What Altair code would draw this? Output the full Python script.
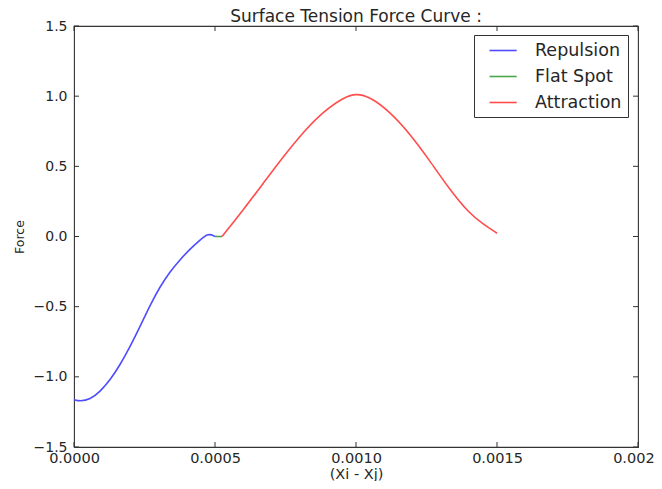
import altair as alt
import pandas as pd

# Data
rep_x = [0.0, 0.000021, 0.000057, 0.000092, 0.000128, 0.000163, 0.000199, 0.000234,
         0.00027, 0.000305, 0.00034, 0.000376, 0.000411, 0.000447, 0.000476, 0.0005]
rep_y = [-1.163, -1.175, -1.162, -1.106, -1.023, -0.916, -0.785, -0.643,
         -0.488, -0.358, -0.251, -0.165, -0.09, -0.025, 0.025, 0.0]
flat_x = [0.0005, 0.000525]
flat_y = [0.0, 0.0]
att_x = [0.000525, 0.0006, 0.000671, 0.000742, 0.000813, 0.000884, 0.000955, 0.001,
         0.00105, 0.00112, 0.00119, 0.00126, 0.00133, 0.0014, 0.00145, 0.0015]
att_y = [0.0, 0.189, 0.379, 0.569, 0.745, 0.89, 0.99, 1.02,
         0.995, 0.889, 0.735, 0.545, 0.34, 0.168, 0.09, 0.023]

series = ["Repulsion", "Flat Spot", "Attraction"]
colors = ["#4d4dff", "#4da64d", "#ff4d4d"]
x_ticks = [0.0, 0.0005, 0.001, 0.0015, 0.002]
y_ticks = [-1.5, -1.0, -0.5, 0.0, 0.5, 1.0, 1.5]

rows = []
for name, xs, ys in [("Repulsion", rep_x, rep_y), ("Flat Spot", flat_x, flat_y),
                     ("Attraction", att_x, att_y)]:
    for i, (a, b) in enumerate(zip(xs, ys)):
        rows.append({"x": a, "y": b, "series": name, "order": i})
df = pd.DataFrame(rows)
xt = pd.DataFrame({"x": x_ticks})
yt = pd.DataFrame({"y": y_ticks})

W, H = 564, 421
FONT = "DejaVu Sans"
TXT = "#262626"
xscale = alt.Scale(domain=[0, 0.002], nice=False, zero=False)
yscale = alt.Scale(domain=[-1.5, 1.5], nice=False, zero=False)
xaxis = alt.Axis(values=x_ticks, format=".4f", tickSize=0, labelPadding=4,
                 labelFlush=False, labelOverlap=False, domain=False, grid=False,
                 labelFontSize=14.5, titleFontSize=14.5,
                 titleY=31, titleBaseline="alphabetic")
yaxis = alt.Axis(values=y_ticks, format=".1f", tickSize=0, labelPadding=7,
                 labelFlush=False, labelOverlap=False, domain=False, grid=False,
                 labelFontSize=14, titleFontSize=12.5,
                 titleX=-55, titleBaseline="middle")
X = alt.X("x:Q", scale=xscale, title="(Xi - Xj)", axis=xaxis)
Y = alt.Y("y:Q", scale=yscale, title="Force", axis=yaxis)

lines = alt.Chart(df).mark_line(strokeWidth=1.6, interpolate="basis").encode(
    x=X, y=Y,
    color=alt.Color("series:N", scale=alt.Scale(domain=series, range=colors),
                    legend=alt.Legend(title=None, orient="none", legendX=400, legendY=9,
                                      symbolType="M0,0H3.2", symbolSize=289,
                                      symbolStrokeWidth=1.6, labelFontSize=17.5,
                                      labelFont=FONT, labelColor=TXT,
                                      labelOffset=36, rowPadding=8, padding=6,
                                      strokeColor="#333", fillColor="white",
                                      cornerRadius=0)),
    detail="series:N",
    order="order:Q",
)

tk = 5
bottom = alt.Chart(xt).mark_rule(color="#333").encode(
    x=X, y=alt.value(H), y2=alt.value(H - tk))
top = alt.Chart(xt).mark_rule(color="#333").encode(
    x=X, y=alt.value(0), y2=alt.value(tk))
left = alt.Chart(yt).mark_rule(color="#333").encode(
    y=Y, x=alt.value(0), x2=alt.value(tk))
right = alt.Chart(yt).mark_rule(color="#333").encode(
    y=Y, x=alt.value(W), x2=alt.value(W - tk))

chart = alt.layer(lines, bottom, top, left, right).properties(
    width=W, height=H,
    background="white",
    title=alt.Title("Surface Tension Force Curve :", fontSize=17, font=FONT,
                    fontWeight="normal", color=TXT, offset=0, baseline="alphabetic",
                    dy=20),
    autosize=alt.AutoSizeParams(type="none"),
    padding={"left": 66, "top": 18, "right": 16, "bottom": 34},
).configure_view(stroke="#333", strokeWidth=1.1).configure_axis(
    labelFont=FONT, labelColor=TXT,
    titleFont=FONT, titleFontWeight="normal", titleColor=TXT,
)

chart.save("out.html", embed_options={"renderer": "svg", "actions": False})
